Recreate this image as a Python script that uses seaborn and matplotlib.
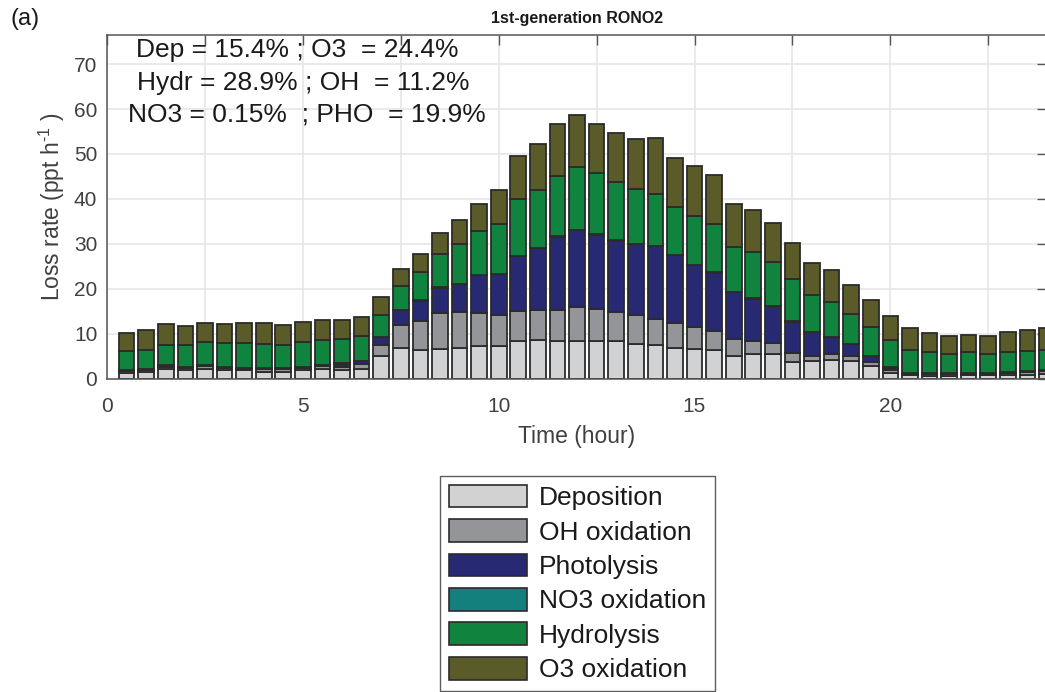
import numpy as np
import pandas as pd
import matplotlib
matplotlib.use("Agg")
import matplotlib.pyplot as plt
from matplotlib.patches import Patch
import seaborn as sns

# half-hour bins (hour of day)
hours = [0.5, 1.0, 1.5, 2.0, 2.5, 3.0, 3.5, 4.0, 4.5, 5.0, 5.5, 6.0,
         6.5, 7.0, 7.5, 8.0, 8.5, 9.0, 9.5, 10.0, 10.5, 11.0, 11.5, 12.0,
         12.5, 13.0, 13.5, 14.0, 14.5, 15.0, 15.5, 16.0, 16.5, 17.0, 17.5, 18.0,
         18.5, 19.0, 19.5, 20.0, 20.5, 21.0, 21.5, 22.0, 22.5, 23.0, 23.5, 24.0]

# loss rates (ppt h-1)
deposition = [1.2, 1.5, 2.1, 2.0, 2.2, 1.9, 1.8, 1.5, 1.5, 1.9, 2.2, 2.0,
              2.2, 4.9, 6.8, 6.3, 6.6, 6.8, 7.3, 7.3, 8.4, 8.6, 8.3, 8.4,
              8.4, 8.4, 7.6, 7.4, 6.9, 6.5, 6.3, 5.1, 5.4, 5.4, 3.7, 3.8,
              4.1, 3.8, 2.7, 1.3, 0.7, 0.6, 0.6, 0.7, 0.7, 0.7, 0.8, 0.9]
oh_oxidation = [0.5, 0.5, 0.5, 0.4, 0.5, 0.4, 0.4, 0.6, 0.6, 0.5, 0.6, 0.6,
                1.1, 2.6, 5.1, 6.4, 7.9, 7.9, 7.2, 6.8, 6.6, 6.6, 7.0, 7.5,
                7.0, 6.3, 6.6, 5.9, 5.5, 5.0, 4.3, 3.7, 3.0, 2.6, 2.0, 1.3,
                1.3, 1.2, 0.9, 0.7, 0.4, 0.4, 0.4, 0.4, 0.4, 0.5, 0.6, 0.8]
photolysis = [0.1, 0.1, 0.2, 0.1, 0.2, 0.1, 0.1, 0.1, 0.1, 0.1, 0.2, 0.7,
              0.6, 1.7, 3.3, 4.6, 5.7, 6.3, 8.5, 9.1, 12.2, 13.8, 16.3, 17.1,
              16.6, 16.0, 15.7, 16.2, 15.0, 13.7, 13.0, 10.4, 9.4, 8.1, 6.9, 5.2,
              3.8, 2.6, 1.4, 0.4, 0.1, 0.1, 0.1, 0.1, 0.1, 0.1, 0.1, 0.1]
no3_oxidation = [0.1, 0.1, 0.1, 0.1, 0.1, 0.1, 0.1, 0.1, 0.1, 0.1, 0.1, 0.1,
                 0.1, 0.1, 0.1, 0.1, 0.1, 0.1, 0.1, 0.1, 0.1, 0.1, 0.1, 0.1,
                 0.1, 0.1, 0.1, 0.1, 0.1, 0.1, 0.1, 0.1, 0.1, 0.1, 0.1, 0.1,
                 0.1, 0.1, 0.1, 0.1, 0.1, 0.1, 0.1, 0.1, 0.1, 0.1, 0.1, 0.1]
hydrolysis = [4.2, 4.2, 4.6, 4.8, 5.1, 5.3, 5.5, 5.4, 5.2, 5.5, 5.5, 5.5,
              5.5, 4.8, 5.2, 6.3, 7.4, 8.8, 9.7, 11.2, 12.6, 12.9, 13.3, 14.1,
              13.6, 13.0, 12.3, 11.6, 10.7, 10.8, 10.8, 10.0, 10.2, 9.7, 9.4, 8.3,
              7.8, 6.6, 6.4, 6.1, 5.0, 4.6, 4.3, 4.5, 4.2, 4.6, 4.6, 4.5]
o3_oxidation = [4.1, 4.4, 4.6, 4.4, 4.3, 4.3, 4.4, 4.7, 4.5, 4.5, 4.4, 4.2,
                4.3, 4.0, 3.9, 4.0, 4.7, 5.3, 6.1, 7.5, 9.6, 10.2, 11.6, 11.5,
                10.9, 10.9, 11.1, 12.3, 11.0, 11.2, 10.9, 9.5, 9.4, 8.7, 8.0, 7.0,
                7.0, 6.6, 5.9, 5.4, 4.9, 4.3, 4.0, 3.8, 3.9, 4.4, 4.7, 4.8]

processes = ["Deposition", "OH oxidation", "Photolysis",
             "NO3 oxidation", "Hydrolysis", "O3 oxidation"]
colors = ["#d1d2d4", "#939598", "#272a73", "#13807e", "#10833f", "#5b5a29"]

df = pd.DataFrame({
    "hour": np.tile(hours, 6),
    "process": np.repeat(processes, len(hours)),
    "rate": deposition + oh_oxidation + photolysis + no3_oxidation
            + hydrolysis + o3_oxidation,
})

sns.set_theme(style="white")
plt.rcParams["font.family"] = ["Liberation Sans", "DejaVu Sans"]
plt.rcParams["mathtext.fontset"] = "custom"
plt.rcParams["mathtext.rm"] = "Liberation Sans"
plt.rcParams["mathtext.default"] = "regular"

ink = "#404040"
fig = plt.figure(figsize=(10.45, 6.92), dpi=100)
ax = fig.add_axes([107 / 1045, 313.5 / 692, 940 / 1045, 343.5 / 692])

# seaborn stacks the first hue level on top, so reverse the order
sns.histplot(data=df, x="hour", weights="rate", hue="process",
             hue_order=processes[::-1], palette=dict(zip(processes, colors)),
             multiple="stack", binwidth=0.5, binrange=(0.25, 24.25), shrink=0.8,
             alpha=1, edgecolor="#2b2b2b", linewidth=1.3, legend=False, ax=ax)

ax.set_xlim(0, 24)
ax.set_ylim(0, 76.5)
ax.set_xticks(np.arange(0, 24.1, 2.5))
ax.set_xticklabels(["0", "", "5", "", "10", "", "15", "", "20", ""])
ax.set_yticks(np.arange(0, 71, 10))
ax.grid(True, color="#e6e6e6", linewidth=1.2)
ax.set_axisbelow(True)
ax.tick_params(direction="in", length=7, width=1, color="#555555",
               labelcolor=ink, labelsize=15, top=True, right=True)
ax.tick_params(axis="x", pad=13)
ax.tick_params(axis="y", pad=7)
for s in ax.spines.values():
    s.set_color("#555555")
    s.set_linewidth(1.1)

ax.set_xlabel("Time (hour)", fontsize=16.5, color=ink, labelpad=7)
ax.set_ylabel("Loss rate (ppt h$^{\u20101}$ )", fontsize=16.5, color=ink,
              labelpad=5)

ax.text(4.86, 73.2, "Dep = 15.4% ; O3  = 24.4%", ha="center", va="center",
        fontsize=19, color="#1a1a1a")
ax.text(5.01, 65.9, "Hydr = 28.9% ; OH  = 11.2%", ha="center", va="center",
        fontsize=19, color="#1a1a1a")
ax.text(5.11, 58.7, "NO3 = 0.15%  ; PHO  = 19.9%", ha="center", va="center",
        fontsize=19, color="#1a1a1a")

fig.text(577.5 / 1045, 1 - 18 / 692, "1st-generation RONO2", ha="center",
         va="center", fontsize=11.5, fontweight="bold", color="#1a1a1a")
fig.text(10 / 1045, 1 - 19 / 692, "(a)", ha="left", va="center",
         fontsize=17, color="#1a1a1a")

handles = [Patch(facecolor=c, edgecolor="#2b2b2b", linewidth=1.2) for c in colors]
leg = fig.legend(handles, processes, loc="upper center",
                 bbox_to_anchor=(577.5 / 1045, 1 - 476 / 692), fontsize=19,
                 frameon=True, fancybox=False, edgecolor="#333333",
                 handlelength=2.95, handleheight=0.95, labelspacing=0.34,
                 handletextpad=0.45, borderpad=0.33, borderaxespad=0)
leg.get_frame().set_linewidth(1.0)
for t in leg.get_texts():
    t.set_color("#1a1a1a")

fig.savefig("out.png", dpi=100)
